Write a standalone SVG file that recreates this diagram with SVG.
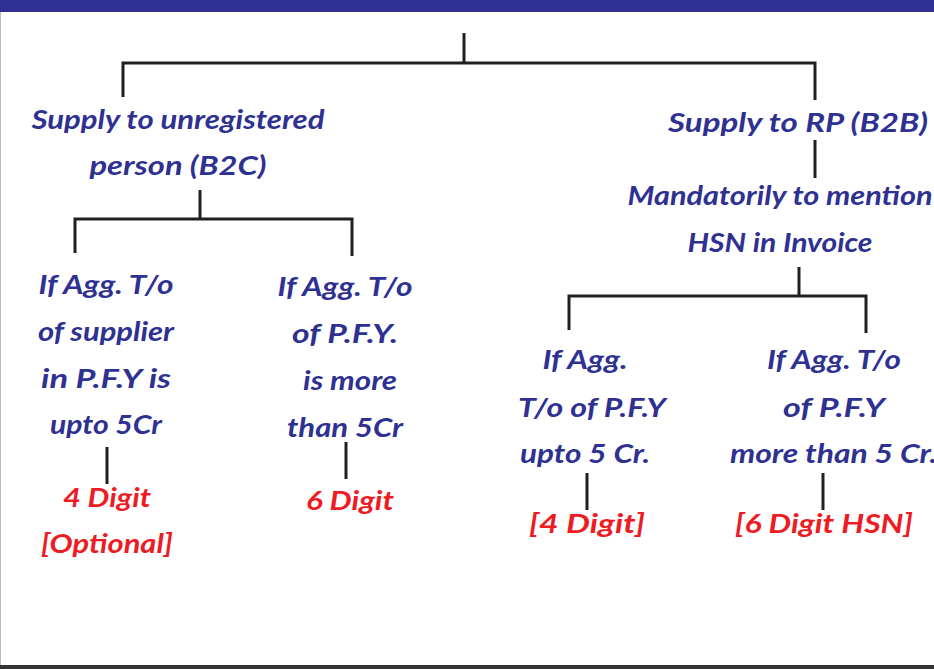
<svg xmlns="http://www.w3.org/2000/svg" width="934" height="669" viewBox="0 0 934 669">
<style>
.t{font-family:"Lato","Open Sans","Liberation Sans",sans-serif;font-weight:700;font-style:italic;font-size:27px;fill:#2E3192;text-anchor:middle}
.r{fill:#ED1C24}
.c{stroke:#231F20;stroke-width:3;fill:none}
</style>
<rect x="0" y="0" width="934" height="669" fill="#ffffff"/>
<rect x="0" y="0" width="934" height="12" fill="#2E3192"/>
<line x1="0.5" y1="12" x2="0.5" y2="665" stroke="#BBBBBB" stroke-width="1"/>
<rect x="0" y="665" width="934" height="4" fill="#333333"/>
<g id="connectors">
<path class="c" d="M464 33V63M123 97V63H815V100"/>
<path class="c" d="M200 190V219M75 253V219H352V256"/>
<path class="c" d="M107 447V484M346 442V479"/>
<path class="c" d="M815 140V178M799 267V296M569 330V296H866V333"/>
<path class="c" d="M587 473V510M823 473V510"/>
</g>
<g id="b2c">
<text class="t" x="178" y="129" textLength="293" lengthAdjust="spacingAndGlyphs">Supply to unregistered</text>
<text class="t" x="178" y="175" textLength="177" lengthAdjust="spacingAndGlyphs">person (B2C)</text>
</g>
<g id="b2b">
<text class="t" x="798" y="132" textLength="260" lengthAdjust="spacingAndGlyphs">Supply to RP (B2B)</text>
</g>
<g id="mandatory">
<text class="t" x="780" y="205" textLength="305" lengthAdjust="spacingAndGlyphs">Mandatorily to mention</text>
<text class="t" x="780" y="252" textLength="185" lengthAdjust="spacingAndGlyphs">HSN in Invoice</text>
</g>
<g id="c1">
<text class="t" x="106" y="294" textLength="135" lengthAdjust="spacingAndGlyphs">If Agg. T/o</text>
<text class="t" x="106" y="341" textLength="136" lengthAdjust="spacingAndGlyphs">of supplier</text>
<text class="t" x="106" y="388" textLength="130" lengthAdjust="spacingAndGlyphs">in P.F.Y is</text>
<text class="t" x="106" y="434" textLength="112" lengthAdjust="spacingAndGlyphs">upto 5Cr</text>
</g>
<g id="r1">
<text class="t r" x="107" y="507" textLength="88" lengthAdjust="spacingAndGlyphs">4 Digit</text>
<text class="t r" x="107" y="553" textLength="132" lengthAdjust="spacingAndGlyphs">[Optional]</text>
</g>
<g id="c2">
<text class="t" x="345" y="296" textLength="135" lengthAdjust="spacingAndGlyphs">If Agg. T/o</text>
<text class="t" x="345" y="343" textLength="106" lengthAdjust="spacingAndGlyphs">of P.F.Y.</text>
<text class="t" x="350" y="390" textLength="94" lengthAdjust="spacingAndGlyphs">is more</text>
<text class="t" x="345" y="437" textLength="116" lengthAdjust="spacingAndGlyphs">than 5Cr</text>
</g>
<g id="r2">
<text class="t r" x="350" y="510" textLength="88" lengthAdjust="spacingAndGlyphs">6 Digit</text>
</g>
<g id="c3">
<text class="t" x="585" y="369" textLength="85" lengthAdjust="spacingAndGlyphs">If Agg.</text>
<text class="t" x="592" y="417" textLength="148" lengthAdjust="spacingAndGlyphs">T/o of P.F.Y</text>
<text class="t" x="585" y="463" textLength="130" lengthAdjust="spacingAndGlyphs">upto 5 Cr.</text>
</g>
<g id="r3">
<text class="t r" x="587" y="533" textLength="116" lengthAdjust="spacingAndGlyphs">[4 Digit]</text>
</g>
<g id="c4">
<text class="t" x="834" y="369" textLength="134" lengthAdjust="spacingAndGlyphs">If Agg. T/o</text>
<text class="t" x="834" y="417" textLength="102" lengthAdjust="spacingAndGlyphs">of P.F.Y</text>
<text class="t" x="730" y="463" textLength="207" lengthAdjust="spacingAndGlyphs" style="text-anchor:start">more than 5 Cr.</text>
</g>
<g id="r4">
<text class="t r" x="824" y="533" textLength="178" lengthAdjust="spacingAndGlyphs">[6 Digit HSN]</text>
</g>
</svg>
